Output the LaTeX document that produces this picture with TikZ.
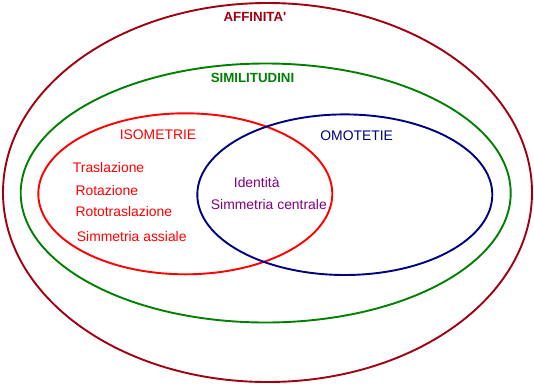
\documentclass[tikz,border=0pt]{standalone}
\usepackage{fontspec}
\setmainfont{Liberation Sans}
\definecolor{affred}{RGB}{160,0,16}
\definecolor{simgreen}{RGB}{0,128,0}
\definecolor{isored}{RGB}{255,0,0}
\definecolor{omoblue}{RGB}{0,0,128}
\definecolor{both}{RGB}{128,0,128}
\begin{document}
\begin{tikzpicture}[x=1pt,y=-1pt,
  setline/.style={line width=1.9pt},
  lab/.style={inner sep=0pt,font=\fontsize{13.9}{15}\selectfont},
  blab/.style={inner sep=0pt,font=\fontsize{13.3}{15}\selectfont\bfseries}]
\useasboundingbox (0,0) rectangle (534,383);
% sets
\draw[setline,affred] (267.5,192.5) ellipse [x radius=264.5, y radius=189.5];
\draw[setline,simgreen] (265.7,193) ellipse [x radius=245, y radius=129.5];
\draw[setline,isored] (185.3,193.8) ellipse [x radius=147, y radius=80.5];
\draw[setline,omoblue] (344.8,194.7) ellipse [x radius=147.5, y radius=80.3];
% labels
\node[blab,text=affred,anchor=base] (aff) at (255,21) {AFFINITA\textquotesingle};
\node[blab,text=simgreen,anchor=base] (sim) at (252.5,82) {SIMILITUDINI};
\node[lab,text=isored,anchor=base] (iso) at (158,139) {ISOMETRIE};
\node[lab,text=omoblue,anchor=base] (omo) at (356.7,140) {OMOTETIE};
\node[lab,text=isored,anchor=base west] (tra) at (72.7,172.3) {Traslazione};
\node[lab,text=isored,anchor=base west] (rot) at (75.3,195) {Rotazione};
\node[lab,text=isored,anchor=base west] (rtt) at (75.3,216) {Rototraslazione};
\node[lab,text=isored,anchor=base west] (sas) at (76.7,241) {Simmetria assiale};
\node[lab,text=both,anchor=base] (ide) at (256.7,187.3) {Identità};
\node[lab,text=both,anchor=base west] (sce) at (210.7,209.3) {Simmetria centrale};
\end{tikzpicture}
\end{document}
